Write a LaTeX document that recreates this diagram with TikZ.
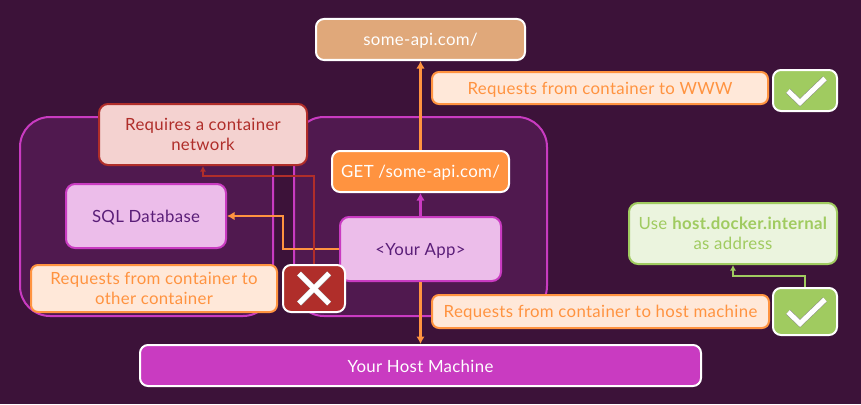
\documentclass[tikz,border=0pt]{standalone}
\usepackage{fontspec}
\setmainfont{Lato}[LetterSpace=2.0]
\usetikzlibrary{arrows.meta,calc}
\definecolor{bgc}{HTML}{3C1239}
\definecolor{contc}{HTML}{50194F}
\definecolor{purp}{HTML}{C93BC1}
\definecolor{applt}{HTML}{ECBDEA}
\definecolor{apptxt}{HTML}{5A1E78}
\definecolor{orng}{HTML}{FF9340}
\definecolor{ornglt}{HTML}{FFE8D9}
\definecolor{redd}{HTML}{B02E2A}
\definecolor{reddlt}{HTML}{F4D2D0}
\definecolor{grn}{HTML}{A0CB60}
\definecolor{grnlt}{HTML}{EBF4DE}
\definecolor{tan}{HTML}{E0A87A}
\tikzset{
  x=1pt,y=-1pt,
  every node/.style={font=\fontsize{16.8}{20.5}\selectfont,align=center,inner sep=0pt,
    execute at begin node={\rule{0pt}{15pt}}},
  boxx/.style={rectangle,rounded corners=#1,anchor=north west,line width=2pt},
  boxx/.default=8pt,
  container/.style={draw=purp,fill=contc,line width=2pt,rounded corners=30pt},
  white box/.style={boxx,draw=white,text=white},
  app box/.style={boxx=9pt,draw=purp,fill=applt,text=apptxt},
  note box/.style={boxx=7pt,draw=orng,fill=ornglt,text=orng},
  arr/.style={line width=2.8pt,-{Latex[length=7.5pt,width=8.5pt]}},
  thin arr/.style={line width=2pt,-{Latex[length=5.5pt,width=6pt]}},
  mark out/.style={draw=black!45,line width=6pt},
  mark in/.style={draw=white,line width=5pt},
}
\begin{document}
\begin{tikzpicture}
\useasboundingbox[fill=bgc] (0,0) rectangle (861,404);
\draw[container] (20,117) rectangle (273,316);
\draw[container] (294,117) rectangle (547,316);

\node[white box,fill=tan,minimum width=209pt,minimum height=41pt] (api) at (315,18) {some-api.com/};
\node[white box,fill=orng,minimum width=177pt,minimum height=41pt] (get) at (331,150) {GET /some-api.com/};
\node[app box,minimum width=161pt,minimum height=64pt] (app) at (339,216) {<Your App>};
\node[app box,minimum width=160pt,minimum height=64pt] (sql) at (65,183) {SQL Database};
\node[white box,fill=purp,minimum width=561pt,minimum height=41pt] (host) at (139,344) {Your Host Machine};

\coordinate (jog) at (283,232);
\draw[arr,orng] (app.west) -| (jog) |- (sql.east);
\draw[arr,purp] (app.north -| get.south) -- (get.south);
\draw[arr,orng] (get.north) -- (api.south);
\draw[arr,orng] (app.south) -- (host.north -| app.south);

\node[boxx=9pt,draw=redd,fill=reddlt,text=redd,minimum width=208pt,minimum height=61pt] (req) at (98,103) {Requires a container\\network};
\node[boxx=8pt,draw=white,fill=redd,minimum width=62pt,minimum height=47pt] (xb) at (282,264) {};
\draw[thin arr,redd] (xb.north) |- ([yshift=-10pt]req.south) -- (req.south);
\draw[mark out] ($(xb.center)+(-15,-15)$) -- ($(xb.center)+(15,15)$);
\draw[mark out] ($(xb.center)+(-15,15)$) -- ($(xb.center)+(15,-15)$);
\draw[mark in] ($(xb.center)+(-15,-15)$) -- ($(xb.center)+(15,15)$);
\draw[mark in] ($(xb.center)+(-15,15)$) -- ($(xb.center)+(15,-15)$);

\node[note box,minimum width=246pt,minimum height=47pt] (nother) at (30,264) {Requests from container to\\other container};
\node[note box,minimum width=336pt,minimum height=32pt] (nwww) at (431,71) {Requests from container to WWW};
\node[note box,minimum width=337pt,minimum height=33pt] (nhost) at (431,294) {Requests from container to host machine};

\node[boxx=8pt,draw=white,fill=grn,minimum width=64pt,minimum height=41pt] (c1) at (772,69) {};
\node[boxx=8pt,draw=white,fill=grn,minimum width=64pt,minimum height=47pt] (c2) at (772,287) {};
\node[boxx=9pt,draw=grn,fill=grnlt,text=grn,minimum width=208pt,minimum height=61pt] (use) at (628,202) {Use \textbf{host.docker.internal}\\as address};
\draw[thin arr,grn] (c2.north) |- ([yshift=-11pt]use.south) -- (use.south);

\foreach \c in {c1,c2}{
  \draw[mark out,miter limit=10] ($(\c.center)+(-17,0.5)$) -- ($(\c.center)+(-5,12)$) -- ($(\c.center)+(20,-12)$);
  \draw[mark in,miter limit=10] ($(\c.center)+(-17,0.5)$) -- ($(\c.center)+(-5,12)$) -- ($(\c.center)+(20,-12)$);
}
\end{tikzpicture}
\end{document}
